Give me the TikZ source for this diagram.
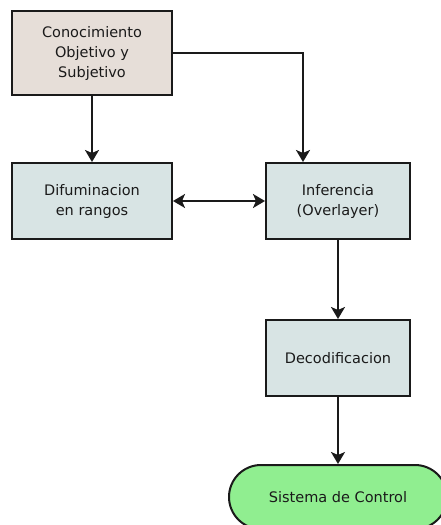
\documentclass[tikz,border=0pt]{standalone}
\usepackage{fontspec}
\setmainfont{DejaVu Sans}
\usetikzlibrary{arrows.meta,shapes.misc}
\definecolor{beigebox}{HTML}{E6DED8}
\definecolor{tealbox}{HTML}{D8E4E4}
\definecolor{greenbox}{HTML}{90EE90}
\definecolor{ink}{HTML}{1A1A1A}
\tikzset{
  tip/.tip={Stealth[length=12pt,width=14pt,inset=3pt]},
  box/.style={draw=ink, line width=2pt, fill=tealbox, align=center,
    inner sep=0pt, font=\fontsize{14.5}{20}\selectfont, text=ink},
  flow/.style={draw=ink, line width=2pt, -tip},
  flow2/.style={draw=ink, line width=2pt, tip-tip}
}
\begin{document}
\begin{tikzpicture}[x=1pt,y=-1pt]
\useasboundingbox[fill=white] (0,0) rectangle (440,525);
\node[box, fill=beigebox, minimum width=160pt, minimum height=84pt] (know) at (92,53)
  {Conocimiento\\Objetivo y\\Subjetivo};
\node[box, minimum width=160pt, minimum height=76pt] (fuzz) at (92,201)
  {Difuminacion\\en rangos};
\node[box, minimum width=144pt, minimum height=76pt] (infer) at (338,201)
  {Inferencia\\(Overlayer)};
\node[box, minimum width=144pt, minimum height=76pt] (decode) at (338,358)
  {Decodificacion};
\node[box, fill=greenbox, rounded rectangle, minimum width=218pt, minimum height=64pt] (ctrl) at (338,497)
  {Sistema de Control};
\coordinate (bend) at ([xshift=-35pt]infer.north);
\draw[flow] (know.south) -- (fuzz.north);
\draw[flow] (know.east) -| (bend);
\draw[flow2] (fuzz.east) -- (infer.west);
\draw[flow] (infer.south) -- (decode.north);
\draw[flow] (decode.south) -- (ctrl.north);
\end{tikzpicture}
\end{document}
